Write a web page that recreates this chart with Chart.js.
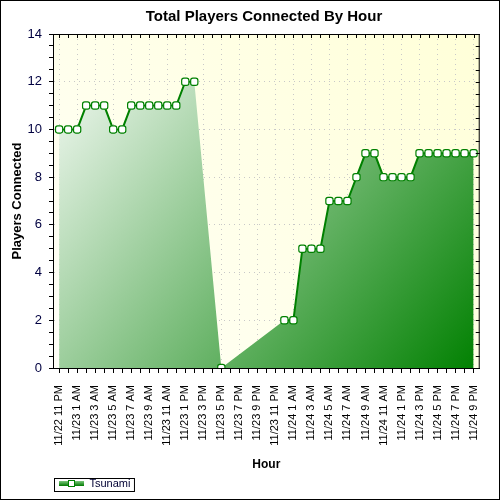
<!DOCTYPE html>
<html lang="en">
<head>
<meta charset="UTF-8">
<title>Total Players Connected By Hour</title>
<style>
    body {
        margin: 0;
        background: #fff;
    }

    #frame {
        width: 498px;
        height: 498px;
        border: 1px solid #000;
    }
</style>
</head>
<body>
<div id="frame"><canvas id="playersChart" width="498" height="498"></canvas></div>

<script src="https://cdn.jsdelivr.net/npm/chart.js"></script>
<script>
    // one label every two hours, starting at hour 0
    const tickLabels = [
        '11/22 11 PM', '11/23 1 AM', '11/23 3 AM', '11/23 5 AM', '11/23 7 AM', '11/23 9 AM',
        '11/23 11 AM', '11/23 1 PM', '11/23 3 PM', '11/23 5 PM', '11/23 7 PM', '11/23 9 PM',
        '11/23 11 PM', '11/24 1 AM', '11/24 3 AM', '11/24 5 AM', '11/24 7 AM', '11/24 9 AM',
        '11/24 11 AM', '11/24 1 PM', '11/24 3 PM', '11/24 5 PM', '11/24 7 PM', '11/24 9 PM'
    ];

    // players per hour, null = no sample
    const players = [
        10, 10, 10, 11, 11, 11, 10, 10, 11, 11, 11, 11, 11, 11, 12, 12,
        null, null, 0, null, null, null, null, null, null,
        2, 2, 5, 5, 5, 7, 7, 7, 8, 9, 9, 8, 8, 8, 8, 9, 9, 9, 9, 9, 9, 9
    ];

    const seriesName = 'Tsunami';
    const points = players.map((v, i) => ({x: i, y: v}));

    const FONT = '"Liberation Sans", Arial, sans-serif';
    Chart.defaults.font.family = FONT;

    function areaFill(context) {
        const {ctx, chartArea} = context.chart;
        if (!chartArea) return 'rgba(0,128,0,0.5)';
        const g = ctx.createLinearGradient(chartArea.left, chartArea.top, chartArea.right, chartArea.bottom);
        g.addColorStop(0, '#ffffff');
        g.addColorStop(1, '#008000');
        return g;
    }

    // little line + marker icon for the legend
    const legendIcon = document.createElement('canvas');
    legendIcon.width = 25;
    legendIcon.height = 9;
    const ic = legendIcon.getContext('2d');
    const ig = ic.createLinearGradient(0, 2, 0, 7);
    ig.addColorStop(0, '#7cc77c');
    ig.addColorStop(1, '#007a00');
    ic.fillStyle = ig;
    ic.fillRect(0, 2, 25, 5);
    ic.fillStyle = '#fff';
    ic.strokeStyle = '#008000';
    ic.lineWidth = 1;
    ic.fillRect(9.5, 1.5, 6, 6);
    ic.strokeRect(9.5, 1.5, 6, 6);

    const plotDecor = {
        id: 'plotDecor',
        afterLayout(chart) {
            const l = chart.legend;
            const dx = 58 - (l.left + l.options.labels.padding);
            l.left += dx;
            l.right += dx;
            const t = chart.titleBlock;
            const tx = 263 - (t.left + t.right) / 2;
            t.left += tx;
            t.right += tx;
        },
        beforeDraw(chart) {
            const {ctx, chartArea: a} = chart;
            const g = ctx.createLinearGradient(a.left, a.bottom, a.right, a.top);
            g.addColorStop(0, '#fffff8');
            g.addColorStop(1, '#ffffd8');
            ctx.save();
            ctx.fillStyle = g;
            ctx.fillRect(a.left, a.top, a.right - a.left, a.bottom - a.top);
            ctx.restore();
        },
        afterDatasetsDraw(chart) {
            const {ctx, chartArea: a, scales: {x, y}} = chart;
            ctx.save();
            ctx.strokeStyle = '#000';
            ctx.lineWidth = 1;
            ctx.beginPath();
            ctx.moveTo(a.left, a.top + 0.5);
            ctx.lineTo(a.right, a.top + 0.5);
            ctx.moveTo(a.right - 0.5, a.top);
            ctx.lineTo(a.right - 0.5, a.bottom);
            x.ticks.forEach(t => {
                const px = Math.round(x.getPixelForValue(t.value)) + 0.5;
                ctx.moveTo(px, a.top);
                ctx.lineTo(px, a.top + 4);
            });
            y.ticks.forEach(t => {
                const py = Math.round(y.getPixelForValue(t.value)) + 0.5;
                ctx.moveTo(a.right, py);
                ctx.lineTo(a.right - 4, py);
            });
            ctx.stroke();
            ctx.restore();
        },
        afterDraw(chart) {
            const {ctx} = chart;
            const l = chart.legend;
            const pad = l.options.labels.padding;
            ctx.save();
            ctx.font = '11px ' + FONT;
            const tw = ctx.measureText(seriesName).width;
            const x0 = Math.round(l.left + pad - 5) + 0.5;
            const yc = l.top + pad + 5.5;
            ctx.strokeStyle = '#000';
            ctx.lineWidth = 1;
            ctx.strokeRect(x0, Math.round(yc - 6) + 0.5, 25 + 3 + tw + 11, 13);
            ctx.restore();
        }
    };

    new Chart(document.getElementById('playersChart'), {
        type: 'line',
        data: {
            datasets: [{
                label: seriesName,
                data: points,
                order: 0,
                fill: false,
                spanGaps: false,
                borderColor: '#008000',
                borderWidth: 2,
                pointStyle: 'rectRounded',
                pointRadius: 4.2,
                pointBackgroundColor: '#ffffff',
                pointBorderColor: '#008000',
                pointBorderWidth: 1.2
            }, {
                label: seriesName + ' area',
                data: points,
                order: 1,
                fill: 'origin',
                spanGaps: true,
                backgroundColor: areaFill,
                borderWidth: 0,
                borderColor: 'rgba(0,0,0,0)',
                pointRadius: 0
            }]
        },
        options: {
            responsive: false,
            animation: false,
            events: [],
            layout: {padding: {left: 0, right: 14, top: 0, bottom: 0}},
            plugins: {
                title: {
                    display: true,
                    text: 'Total Players Connected By Hour',
                    color: '#000',
                    font: {size: 15, weight: 'bold'},
                    padding: {top: 7, bottom: 8}
                },
                legend: {
                    position: 'bottom',
                    align: 'start',
                    labels: {
                        filter: item => item.datasetIndex === 0,
                        usePointStyle: true,
                        pointStyle: legendIcon,
                        pointStyleWidth: 25,
                        padding: 6,
                        color: '#000033',
                        font: {size: 11}
                    }
                },
                tooltip: {enabled: false}
            },
            scales: {
                x: {
                    type: 'linear',
                    min: -0.68,
                    max: 46.68,
                    afterFit(scale) {
                        scale.height = scale.chart.height - 367 - scale.chart.legend.height;
                    },
                    ticks: {
                        stepSize: 1,
                        maxTicksLimit: 100,
                        includeBounds: false,
                        autoSkip: false,
                        maxRotation: 90,
                        minRotation: 90,
                        padding: 12,
                        color: '#000',
                        font: {size: 11},
                        callback: v => (v % 2 === 0 ? tickLabels[v / 2] : '')
                    },
                    grid: {
                        color: c => (c.tick && c.tick.value % 2 === 0 ? '#c8c8c8' : 'rgba(0,0,0,0)'),
                        tickColor: '#000',
                        tickLength: 5
                    },
                    border: {color: '#000', dash: [1, 4]},
                    title: {
                        display: true,
                        text: 'Hour',
                        color: '#000',
                        font: {size: 12, weight: 'bold'},
                        padding: {top: -2, bottom: 0}
                    }
                },
                y: {
                    min: 0,
                    max: 14,
                    afterFit(scale) {
                        scale.width = 52;
                    },
                    ticks: {
                        stepSize: 0.5,
                        maxTicksLimit: 100,
                        autoSkip: false,
                        padding: 7,
                        color: '#000040',
                        font: {size: 13},
                        callback: v => (v % 2 === 0 ? v : '')
                    },
                    grid: {
                        color: c => (c.tick && c.tick.value % 2 === 0 && c.tick.value > 0 && c.tick.value < 14 ? '#c8c8c8' : 'rgba(0,0,0,0)'),
                        tickColor: '#000',
                        tickLength: 4
                    },
                    border: {color: '#000', dash: [1, 4]},
                    title: {
                        display: true,
                        text: 'Players Connected',
                        color: '#000',
                        font: {size: 13, weight: 'bold'},
                        padding: {top: 9, bottom: 0}
                    }
                }
            }
        },
        plugins: [plotDecor]
    });
</script>
</body>
</html>
